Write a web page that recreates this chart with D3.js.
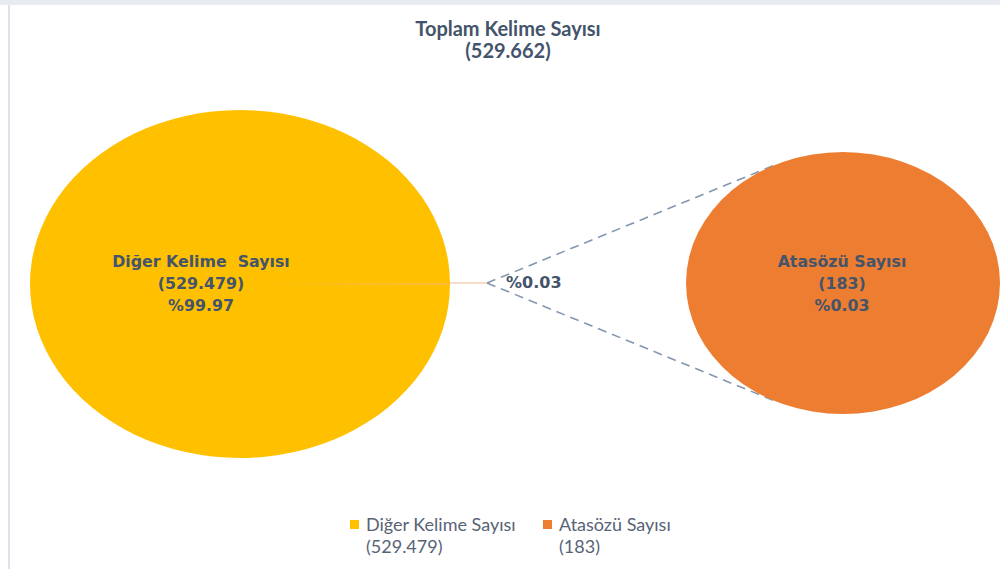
<!DOCTYPE html>
<html>
<head>
<meta charset="utf-8">
<script src="https://cdn.jsdelivr.net/npm/d3@7"></script>
<style>
  body { margin: 0; background: #fff; }
  svg { display: block; }
</style>
</head>
<body>
<div id="chart"></div>
<script>
// Data
var titleLines = ["Toplam Kelime Sayısı", "(529.662)"];
var categories = ["Diğer Kelime Sayısı", "Atasözü Sayısı"];
var values = [529479, 183];
var valueLabels = ["(529.479)", "(183)"];
var percentLabels = ["%99.97", "%0.03"];
var colors = ["#FFC000", "#ED7D31"];

var width = 1000, height = 569;

var svg = d3.select("#chart").append("svg")
    .attr("width", width)
    .attr("height", height);

// Frame: grey band on top and a thin line on the left
svg.append("rect")
    .attr("x", 0).attr("y", 0)
    .attr("width", width).attr("height", 5)
    .attr("fill", "#e8ecf0");
svg.append("line")
    .attr("x1", 9).attr("x2", 9)
    .attr("y1", 5).attr("y2", height)
    .attr("stroke", "#dde3ea")
    .attr("stroke-width", 2);

// Title
var title = svg.append("text")
    .attr("text-anchor", "middle")
    .attr("font-family", "Lato, sans-serif")
    .attr("font-weight", "bold")
    .attr("font-size", 20)
    .attr("fill", "#44546a");
title.selectAll("tspan")
    .data(titleLines)
    .enter().append("tspan")
    .attr("x", 508)
    .attr("y", function(d, i) { return 36 + i * 22; })
    .text(function(d) { return d; });

// Main pie (ellipse), small slice centred on the right side
var total = d3.sum(values);
var share = values[1] / total;
var start = Math.PI / 2 + share * Math.PI;

var mainPie = d3.pie()
    .sort(null)
    .startAngle(start)
    .endAngle(start + 2 * Math.PI);

var main = { cx: 240, cy: 284, rx: 210, ry: 174 };
var second = { cx: 843, cy: 283, rx: 157, ry: 131 };

var unitArc = d3.arc().innerRadius(0).outerRadius(1);

// Series lines from the small slice to the second pie (drawn first, under it)
var join = { x: 487, y: 283 };
var px = (join.x - second.cx) / second.rx,
    py = (join.y - second.cy) / second.ry,
    dist = Math.sqrt(px * px + py * py),
    base = Math.atan2(py, px),
    delta = Math.acos(1 / dist);

[base + delta, base - delta].forEach(function(a) {
    svg.append("line")
        .attr("x1", join.x).attr("y1", join.y)
        .attr("x2", second.cx + second.rx * Math.cos(a))
        .attr("y2", second.cy + second.ry * Math.sin(a))
        .attr("stroke", "#8497b0")
        .attr("stroke-width", 1.6)
        .attr("stroke-dasharray", "9,6");
});

var mainGroup = svg.append("g")
    .attr("transform", "translate(" + main.cx + "," + main.cy + ") scale(" + main.rx + "," + main.ry + ")");

mainGroup.selectAll("path")
    .data(mainPie(values))
    .enter().append("path")
    .attr("d", unitArc)
    .attr("fill", function(d, i) { return colors[i]; });

// Leader line for the small slice label
svg.append("line")
    .attr("x1", main.cx + main.rx).attr("y1", main.cy - 1)
    .attr("x2", join.x).attr("y2", main.cy - 1)
    .attr("stroke", "#f4b98f")
    .attr("stroke-width", 1);

svg.append("text")
    .attr("x", 506)
    .attr("y", 288)
    .attr("font-family", "DejaVu Sans, sans-serif")
    .attr("font-weight", "bold")
    .attr("font-size", 16)
    .attr("fill", "#44546a")
    .text(percentLabels[1]);

// Second pie: only the small category
var secondPie = d3.pie().sort(null);
var secondGroup = svg.append("g")
    .attr("transform", "translate(" + second.cx + "," + second.cy + ") scale(" + second.rx + "," + second.ry + ")");
secondGroup.selectAll("path")
    .data(secondPie([values[1]]))
    .enter().append("path")
    .attr("d", unitArc)
    .attr("fill", colors[1]);

// Labels inside the pies
var innerLabels = [
    { x: 201, lines: ["Diğer Kelime  Sayısı", valueLabels[0], percentLabels[0]] },
    { x: 842, lines: [categories[1], valueLabels[1], percentLabels[1]] }
];
innerLabels.forEach(function(lab) {
    var t = svg.append("text")
        .attr("text-anchor", "middle")
        .attr("font-family", "DejaVu Sans, sans-serif")
        .attr("font-weight", "bold")
        .attr("font-size", 15.8)
        .attr("fill", "#44546a")
        .style("white-space", "pre");
    t.selectAll("tspan")
        .data(lab.lines)
        .enter().append("tspan")
        .attr("x", lab.x)
        .attr("y", function(d, i) { return 267 + i * 22; })
        .text(function(d) { return d; });
});

// Legend
var legendX = [350, 543];
var legend = svg.selectAll("g.legend")
    .data(categories)
    .enter().append("g")
    .attr("class", "legend")
    .attr("transform", function(d, i) { return "translate(" + legendX[i] + ",0)"; });

legend.append("rect")
    .attr("x", 0).attr("y", 520)
    .attr("width", 9).attr("height", 9)
    .attr("fill", function(d, i) { return colors[i]; });

var legendText = legend.append("text")
    .attr("font-family", "Lato, sans-serif")
    .attr("font-size", 18)
    .attr("fill", "#586376");
legendText.append("tspan")
    .attr("x", 16).attr("y", 531)
    .text(function(d) { return d; });
legendText.append("tspan")
    .attr("x", 16).attr("y", 553)
    .text(function(d, i) { return valueLabels[i]; });
</script>
</body>
</html>
